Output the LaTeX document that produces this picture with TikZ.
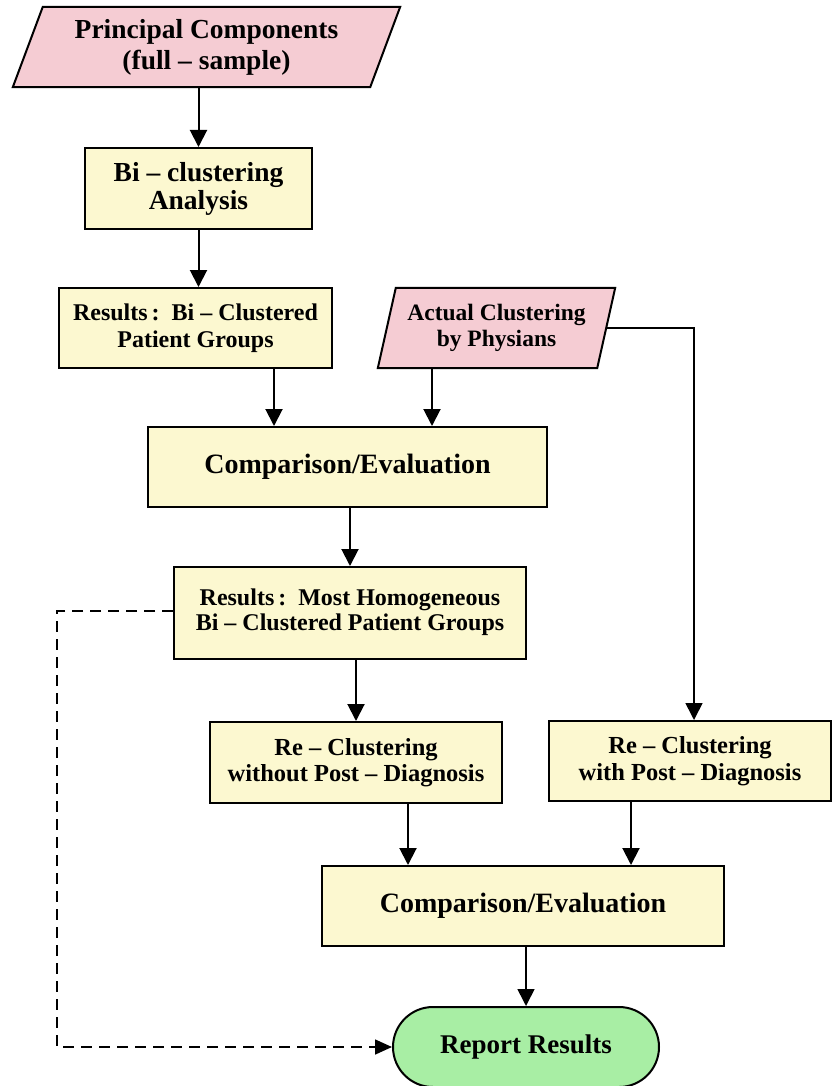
\documentclass[tikz,border=0pt]{standalone}
\usepackage{fontspec}
\setmainfont{Liberation Serif}
\usetikzlibrary{arrows.meta,calc,backgrounds,shapes.misc}
\definecolor{pinkf}{RGB}{245,204,211}
\definecolor{yelf}{RGB}{252,248,208}
\definecolor{grnf}{RGB}{168,238,164}
\tikzset{
  boxnode/.style={draw, line width=2pt, fill=yelf, align=center, inner sep=0pt},
  parnode/.style={draw=none, align=center, inner sep=0pt},
  parshape/.style={draw, line width=2pt, fill=pinkf},
  bigtxt/.style={font=\bfseries\fontsize{28}{31}\selectfont},
  midtxt/.style={font=\bfseries\fontsize{24.5}{26.5}\selectfont},
  arr/.style={line width=2pt, -{Triangle[length=17pt,width=17pt]}},
  thinarr/.style={line width=1.6pt, -{Triangle[length=17pt,width=17pt]}},
  dasharr/.style={line width=1.6pt, dash pattern=on 11pt off 7pt, -{Triangle[length=17pt,width=15pt]}},
}
\begin{document}
\begin{tikzpicture}[x=1pt,y=-1pt]
\useasboundingbox (0,0) rectangle (832,1086);

\node[parnode,font=\bfseries\fontsize{27.5}{31}\selectfont,minimum width=357pt,minimum height=80pt] (pc) at (206.5,47)
  {Principal Components\\(full -- sample)};
\node[boxnode,font=\bfseries\fontsize{27.5}{28}\selectfont,minimum width=227pt,minimum height=81pt] (bca) at (198.5,188.5)
  {Bi -- clustering\\Analysis};
\node[boxnode,font=\bfseries\fontsize{24}{27}\selectfont,minimum width=273pt,minimum height=80pt] (res1) at (195.5,328)
  {Results\,:\ \ Bi -- Clustered\\Patient Groups};
\node[parnode,font=\bfseries\fontsize{23.5}{26}\selectfont,minimum width=219pt,minimum height=80pt] (act) at (496.5,328)
  {Actual Clustering\\by Physians};
\node[boxnode,bigtxt,minimum width=399pt,minimum height=80pt] (cmp1) at (347.5,467)
  {\raisebox{6pt}{Comparison/Evaluation}};
\node[boxnode,midtxt,font=\bfseries\fontsize{24}{26}\selectfont,minimum width=352pt,minimum height=92pt] (res2) at (350,613)
  {\raisebox{4pt}{\begin{tabular}{@{}c@{}}Results\,:\ \ Most Homogeneous\\[-1pt]Bi -- Clustered Patient Groups\end{tabular}}};
\node[boxnode,midtxt,minimum width=292pt,minimum height=81pt] (rcw) at (356,762.5)
  {Re -- Clustering\\without Post -- Diagnosis};
\node[boxnode,midtxt,minimum width=282pt,minimum height=80pt] (rcp) at (690,761)
  {Re -- Clustering\\with Post -- Diagnosis};
\node[boxnode,bigtxt,minimum width=402pt,minimum height=80pt] (cmp2) at (523,906)
  {\raisebox{6pt}{Comparison/Evaluation}};
\node[draw, line width=2pt, fill=grnf, rounded rectangle, inner sep=0pt,
  font=\bfseries\fontsize{27}{28}\selectfont, minimum width=266pt, minimum height=80pt] (rep) at (526,1047)
  {\raisebox{4pt}{Report Results}};

\begin{scope}[on background layer]
\draw[parshape] ($(pc.north west)+(15,0)$) -- ($(pc.north east)+(15,0)$)
  -- ($(pc.south east)+(-15,0)$) -- ($(pc.south west)+(-15,0)$) -- cycle;
\draw[parshape] ($(act.north west)+(9,0)$) -- ($(act.north east)+(9,0)$)
  -- ($(act.south east)+(-9,0)$) -- ($(act.south west)+(-9,0)$) -- cycle;
\end{scope}

\draw[arr] (pc.south -| bca.north) -- (bca.north);
\draw[arr] (bca.south) -- (bca.south |- res1.north);
\draw[arr] ([xshift=78.5pt]res1.south) -- ([xshift=78.5pt]res1.south |- cmp1.north);
\draw[arr] ([xshift=-64.5pt]act.south) -- ([xshift=-64.5pt]act.south |- cmp1.north);
\draw[thinarr] (act.east) -| ([xshift=4pt]rcp.north);
\draw[arr] (cmp1.south -| res2.north) -- (res2.north);
\draw[arr] (res2.south -| rcw.north) -- (rcw.north);
\draw[arr] ([xshift=52pt]rcw.south) -- ([xshift=52pt]rcw.south |- cmp2.north);
\draw[arr] ([xshift=-59pt]rcp.south) -- ([xshift=-59pt]rcp.south |- cmp2.north);
\draw[thinarr] (cmp2.south -| rep.north) -- (rep.north);
\coordinate (dl) at (57,611);
\draw[dasharr] ([yshift=2pt]res2.west) -- (dl) |- (rep.west);
\end{tikzpicture}
\end{document}
